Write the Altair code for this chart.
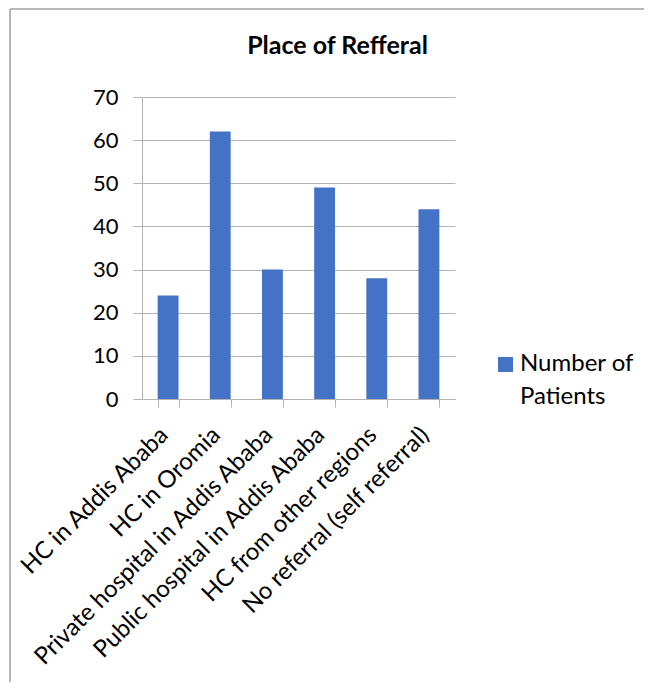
import altair as alt
import pandas as pd

categories = [
    "HC in Addis Ababa",
    "HC in Oromia",
    "Private hospital in Addis Ababa",
    "Public hospital in Addis Ababa",
    "HC from other regions",
    "No referral (self referral)",
]
patients = [24, 62, 30, 49, 28, 44]
series_name = "Number of Patients"
legend_lines = ["Number of", "Patients"]
y_ticks = [0, 10, 20, 30, 40, 50, 60, 70]
chart_title = "Place of Refferal"

df = pd.DataFrame({"place": categories, "value": patients, "series": [series_name] * len(categories)})
series_df = pd.DataFrame({"series": [series_name]})

FONT = "Lato"
GRID = "#b3b3b3"
FRAME = "#a0a0a0"
color_scale = alt.Scale(domain=[series_name], range=["#4472C4"])

bars = alt.Chart(df).mark_bar().encode(
    x=alt.X(
        "place:N",
        sort=categories,
        title=None,
        scale=alt.Scale(paddingInner=0.6, paddingOuter=0.3),
        axis=alt.Axis(
            labelAngle=-45,
            labelFontSize=24,
            labelFont=FONT,
            labelColor="#000000",
            labelAlign="right",
            labelBaseline="middle",
            labelPadding=24,
            labelOffset=-4,
            labelLimit=500,
            tickSize=8,
            tickColor=GRID,
            domainColor=GRID,
            tickBand="extent",
            grid=False,
        ),
    ),
    y=alt.Y(
        "value:Q",
        title=None,
        scale=alt.Scale(domain=[0, 70], nice=False),
        axis=alt.Axis(
            values=y_ticks,
            labelFontSize=22,
            labelFont=FONT,
            labelColor="#000000",
            labelPadding=15,
            tickSize=9,
            tickColor=GRID,
            domainColor=GRID,
            gridColor=GRID,
            grid=True,
        ),
    ),
    color=alt.Color("series:N", scale=color_scale, legend=None),
)

legend_symbol = alt.Chart(series_df).mark_square(size=225, opacity=1).encode(
    x=alt.value(363.5), y=alt.value(267.5), color=alt.Color("series:N", scale=color_scale, legend=None)
)
legend_text = alt.Chart(series_df).mark_text(
    font=FONT, fontSize=24, color="#000000", align="left", baseline="middle", lineHeight=33
).encode(x=alt.value(378), y=alt.value(267), text=alt.value(legend_lines))

frame_left = alt.Chart(series_df).mark_rule(color=FRAME, strokeWidth=1.5).encode(
    x=alt.value(-132), y=alt.value(-88), y2=alt.value(700)
)
frame_top = alt.Chart(series_df).mark_rule(color=FRAME, strokeWidth=1.5).encode(
    x=alt.value(-132), x2=alt.value(700), y=alt.value(-88)
)

title_text = alt.Chart(series_df).mark_text(
    font=FONT, fontSize=25, fontWeight="bold", color="#000000", align="center", baseline="middle"
).encode(x=alt.value(195.5), y=alt.value(-51), text=alt.value(chart_title))

chart = alt.layer(frame_left, frame_top, bars, legend_symbol, legend_text, title_text).properties(
    width=313,
    height=302,
    padding={"left": 134, "top": 89, "right": 189, "bottom": 283},
    autosize=alt.AutoSizeParams(type="none"),
).configure_view(stroke=None)

chart.save("out.html", embed_options={"renderer": "svg", "actions": False})
